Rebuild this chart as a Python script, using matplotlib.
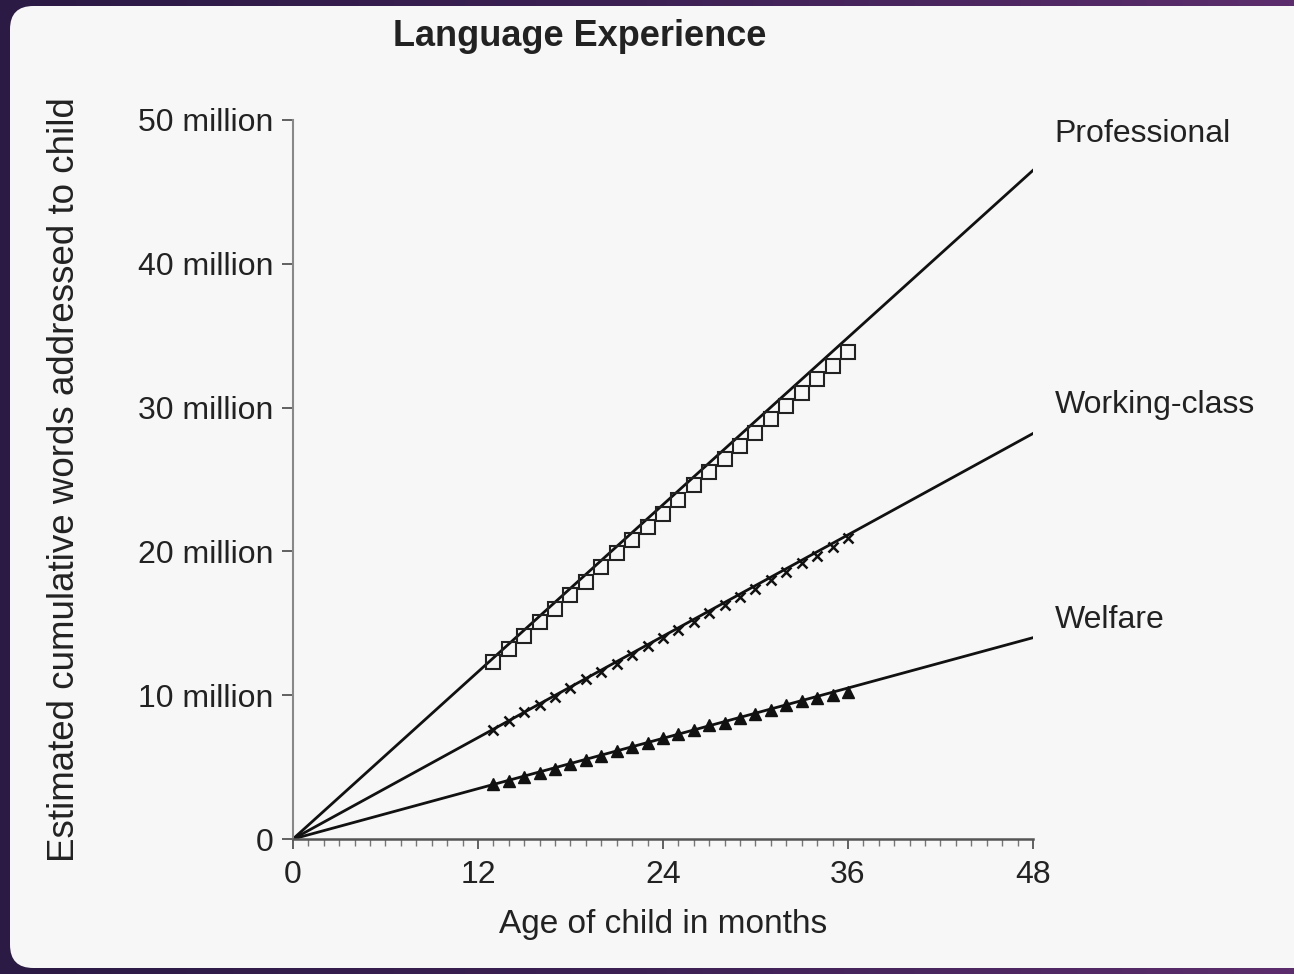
import numpy as np
import matplotlib.pyplot as plt
from matplotlib.patches import FancyBboxPatch
from matplotlib.colors import LinearSegmentedColormap
from matplotlib.ticker import MultipleLocator, FuncFormatter

plt.rcParams["font.family"] = ["Liberation Sans", "DejaVu Sans"]

# observed months (data markers)
months = [13, 14, 15, 16, 17, 18, 19, 20, 21, 22, 23, 24,
          25, 26, 27, 28, 29, 30, 31, 32, 33, 34, 35, 36]

# estimated cumulative words, in millions
professional = [12.3, 13.2, 14.1, 15.1, 16.0, 17.0, 17.9, 18.9, 19.9, 20.8, 21.7, 22.6,
                23.6, 24.6, 25.5, 26.4, 27.3, 28.2, 29.2, 30.1, 31.0, 32.0, 32.9, 33.9]
working_class = [7.6, 8.2, 8.8, 9.3, 9.9, 10.5, 11.1, 11.6, 12.2, 12.8, 13.4, 14.0,
                 14.5, 15.1, 15.7, 16.3, 16.8, 17.4, 18.0, 18.6, 19.2, 19.7, 20.3, 20.9]
welfare = [3.8, 4.0, 4.3, 4.6, 4.9, 5.2, 5.5, 5.8, 6.1, 6.4, 6.7, 7.0,
           7.3, 7.6, 7.9, 8.1, 8.4, 8.7, 9.0, 9.3, 9.6, 9.8, 10.0, 10.2]

# extrapolated lines from birth to 48 months
line_months = [0, 48]
professional_line = [0, 46.5]
working_class_line = [0, 28.2]
welfare_line = [0, 14.0]

labels = ["Professional", "Working-class", "Welfare"]
label_y = [49.0, 30.2, 15.2]

fig = plt.figure(figsize=(12.94, 9.74), dpi=100)

# purple frame with a soft gradient behind a light rounded panel
bg = fig.add_axes([0, 0, 1, 1], zorder=-10)
grad = np.linspace(0, 1, 256).reshape(1, -1)
cmap = LinearSegmentedColormap.from_list("frame", ["#2b1a44", "#3d2155", "#5c2d6c"])
bg.imshow(grad, aspect="auto", cmap=cmap, extent=[0, 1, 0, 1])
bg.set_xlim(0, 1)
bg.set_ylim(0, 1)
bg.axis("off")
panel = FancyBboxPatch((10 / 1294, 6 / 974), 1.05, 962 / 974,
                       boxstyle="round,pad=0,rounding_size=0.018",
                       transform=bg.transAxes, facecolor="#f7f7f7",
                       edgecolor="none", mutation_aspect=1294 / 974)
bg.add_patch(panel)

ax = fig.add_axes([0.2264, 0.1386, 0.5719, 0.7382])
ax.set_facecolor("none")

ax.plot(line_months, professional_line, color="#111111", lw=2.0)
ax.plot(line_months, working_class_line, color="#111111", lw=2.0)
ax.plot(line_months, welfare_line, color="#111111", lw=2.0)

ax.plot(months, professional, ls="none", marker="s", ms=10, mfc="none",
        mec="#222222", mew=1.5)
ax.plot(months, working_class, ls="none", marker="x", ms=7, color="#111111", mew=1.8)
ax.plot(months, welfare, ls="none", marker="^", ms=8, color="#111111")

for lab, yv in zip(labels, label_y):
    ax.text(49.4, yv, lab, fontsize=23, color="#222222", va="center", ha="left",
            clip_on=False)

ax.set_xlim(0, 48)
ax.set_ylim(0, 50)
ax.xaxis.set_major_locator(MultipleLocator(12))
ax.xaxis.set_minor_locator(MultipleLocator(1))
ax.yaxis.set_major_locator(MultipleLocator(10))
ax.yaxis.set_major_formatter(FuncFormatter(
    lambda v, p: "0" if v == 0 else f"{int(v)} million"))

for s in ["top", "right"]:
    ax.spines[s].set_visible(False)
ax.spines["left"].set_color("#888888")
ax.spines["left"].set_linewidth(1.5)
ax.spines["bottom"].set_color("#555555")
ax.spines["bottom"].set_linewidth(1.8)

ax.tick_params(axis="y", which="major", length=8, width=1.3, color="#555555",
               labelsize=23, labelcolor="#222222", pad=6)
ax.tick_params(axis="x", which="major", length=7, width=1.3, color="#555555",
               labelsize=23, labelcolor="#222222", pad=8)
ax.tick_params(axis="x", which="minor", length=5, width=1.0, color="#777777")

ax.set_xlabel("Age of child in months", fontsize=24, color="#222222", labelpad=14)
ax.set_ylabel("Estimated cumulative words addressed to child", fontsize=26.5,
              color="#222222", labelpad=40)

fig.text(580 / 1294, 1 - 36 / 974, "Language Experience", fontsize=26,
         fontweight="bold", color="#222222", ha="center", va="center")

fig.savefig("out.png", dpi=100)
